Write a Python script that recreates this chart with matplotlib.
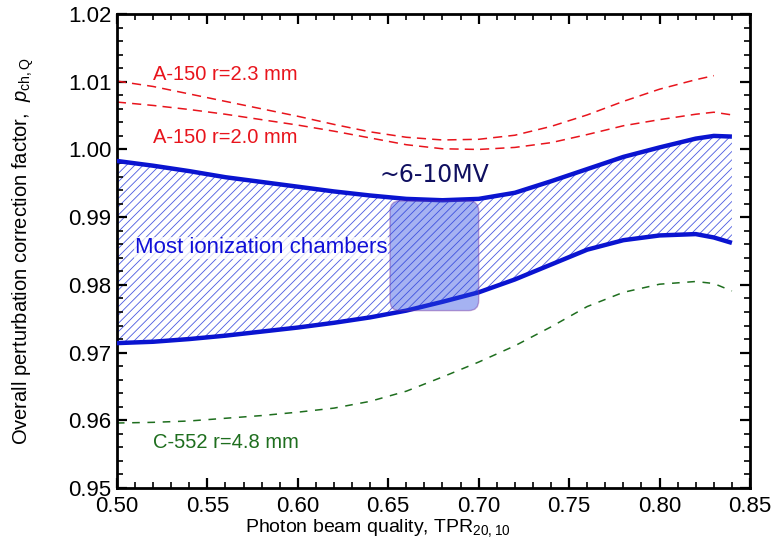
import numpy as np
import matplotlib
matplotlib.use('Agg')
import matplotlib.pyplot as plt
from matplotlib.patches import FancyBboxPatch
from matplotlib.ticker import MultipleLocator, FormatStrFormatter

plt.rcParams['font.family'] = ['Liberation Sans', 'DejaVu Sans']
plt.rcParams['mathtext.fontset'] = 'custom'
plt.rcParams['mathtext.rm'] = 'Liberation Sans'
plt.rcParams['mathtext.it'] = 'Liberation Sans:italic'
plt.rcParams['hatch.linewidth'] = 0.6

# beam quality TPR20,10
tpr = [0.50, 0.52, 0.54, 0.56, 0.58, 0.60, 0.62, 0.64, 0.66, 0.68,
       0.70, 0.72, 0.74, 0.76, 0.78, 0.80, 0.82, 0.83, 0.84]

# envelope of most ionization chambers
band_upper = [0.9983, 0.9976, 0.9968, 0.9959, 0.9952, 0.9945, 0.9938, 0.9932, 0.9927, 0.9925,
              0.9927, 0.9936, 0.9953, 0.9971, 0.9989, 1.0003, 1.0016, 1.0020, 1.0019]
band_lower = [0.9714, 0.9716, 0.9720, 0.9725, 0.9731, 0.9737, 0.9744, 0.9752, 0.9762, 0.9775,
              0.9789, 0.9808, 0.9830, 0.9852, 0.9866, 0.9873, 0.9875, 0.9870, 0.9862]

# A-150 and C-552 chambers
a150_r23 = [1.0101, 1.0093, 1.0082, 1.0071, 1.0060, 1.0049, 1.0037, 1.0026, 1.0018, 1.0014,
            1.0015, 1.0021, 1.0034, 1.0051, 1.0071, 1.0089, 1.0103, 1.0109]
a150_r20 = [1.0070, 1.0065, 1.0059, 1.0052, 1.0044, 1.0036, 1.0027, 1.0017, 1.0007, 1.0001,
            1.0000, 1.0003, 1.0010, 1.0022, 1.0035, 1.0044, 1.0052, 1.0055, 1.0051]
c552_r48 = [0.9596, 0.9597, 0.9599, 0.9603, 0.9607, 0.9612, 0.9618, 0.9628, 0.9643, 0.9664,
            0.9686, 0.9710, 0.9738, 0.9768, 0.9789, 0.9801, 0.9805, 0.9802, 0.9791]

# 6-10 MV region
box_x = (0.651, 0.700)
box_y = (0.9762, 0.9924)

fig = plt.figure(figsize=(7.74, 5.52), dpi=100)
ax = fig.add_axes([0.151, 0.1159, 0.818, 0.8587])

ax.fill_between(tpr, band_lower, band_upper, facecolor='none', edgecolor='#4a5ae0',
                linewidth=0, hatch='////', zorder=1)

ax.plot(tpr[:len(a150_r23)], a150_r23, color='#e8141c', lw=1.1, ls=(0, (6, 4)), zorder=2)
ax.plot(tpr, a150_r20, color='#e8141c', lw=1.1, ls=(0, (6, 4)), zorder=2)
ax.plot(tpr, c552_r48, color='#1e6e1e', lw=1.1, ls=(0, (5, 5)), zorder=2)
ax.plot(tpr, band_upper, color='#0a14d0', lw=3.2, solid_capstyle='butt', zorder=3)
ax.plot(tpr, band_lower, color='#0a14d0', lw=3.2, solid_capstyle='butt', zorder=3)

box = FancyBboxPatch((box_x[0], box_y[0]), box_x[1] - box_x[0], box_y[1] - box_y[0],
                     boxstyle='round,pad=0,rounding_size=0.0055', mutation_aspect=0.267,
                     facecolor='#2a48e0', alpha=0.42, edgecolor='#7030a0', lw=1.0, zorder=4)
ax.add_patch(box)

ax.text(0.52, 1.0110, 'A-150 r=2.3 mm', color='#e8141c', fontsize=14.5, va='center')
ax.text(0.52, 1.0017, 'A-150 r=2.0 mm', color='#e8141c', fontsize=14.5, va='center')
ax.text(0.52, 0.9567, 'C-552 r=4.8 mm', color='#1e6e1e', fontsize=14.5, va='center')
ax.text(0.5099, 0.98546, 'Most ionization chambers', color='#1010d8', fontsize=16, va='center',
        bbox=dict(facecolor='white', edgecolor='none', pad=0.5, alpha=0.75), zorder=5)
ax.text(0.6454, 0.99624, '~6-10MV', color='#101060', fontsize=17, va='center',
        family='DejaVu Sans', zorder=5)

ax.set_xlim(0.50, 0.85)
ax.set_ylim(0.95, 1.02)
ax.xaxis.set_major_locator(MultipleLocator(0.05))
ax.xaxis.set_minor_locator(MultipleLocator(0.01))
ax.yaxis.set_major_locator(MultipleLocator(0.01))
ax.yaxis.set_minor_locator(MultipleLocator(0.002))
ax.xaxis.set_major_formatter(FormatStrFormatter('%.2f'))
ax.yaxis.set_major_formatter(FormatStrFormatter('%.2f'))
ax.tick_params(which='both', direction='in', top=True, right=True)
ax.tick_params(which='major', length=7, width=1.6, labelsize=16)
ax.tick_params(axis='x', which='major', pad=6)
ax.tick_params(axis='y', which='major', pad=4)
ax.tick_params(which='minor', length=4, width=1.2)
for s in ax.spines.values():
    s.set_linewidth(2)

ax.set_xlabel('Photon beam quality, TPR$_{\\mathrm{20,10}}$', fontsize=14)
ax.xaxis.set_label_coords(0.412, -0.062, transform=ax.transAxes)
ax.xaxis.label.set_va('top')
ax.set_ylabel('Overall perturbation correction factor,  $p_{\\mathrm{ch,Q}}$', fontsize=14.5)
ax.yaxis.set_label_coords(-0.128, 0.5)

fig.savefig('out.png', dpi=100)
